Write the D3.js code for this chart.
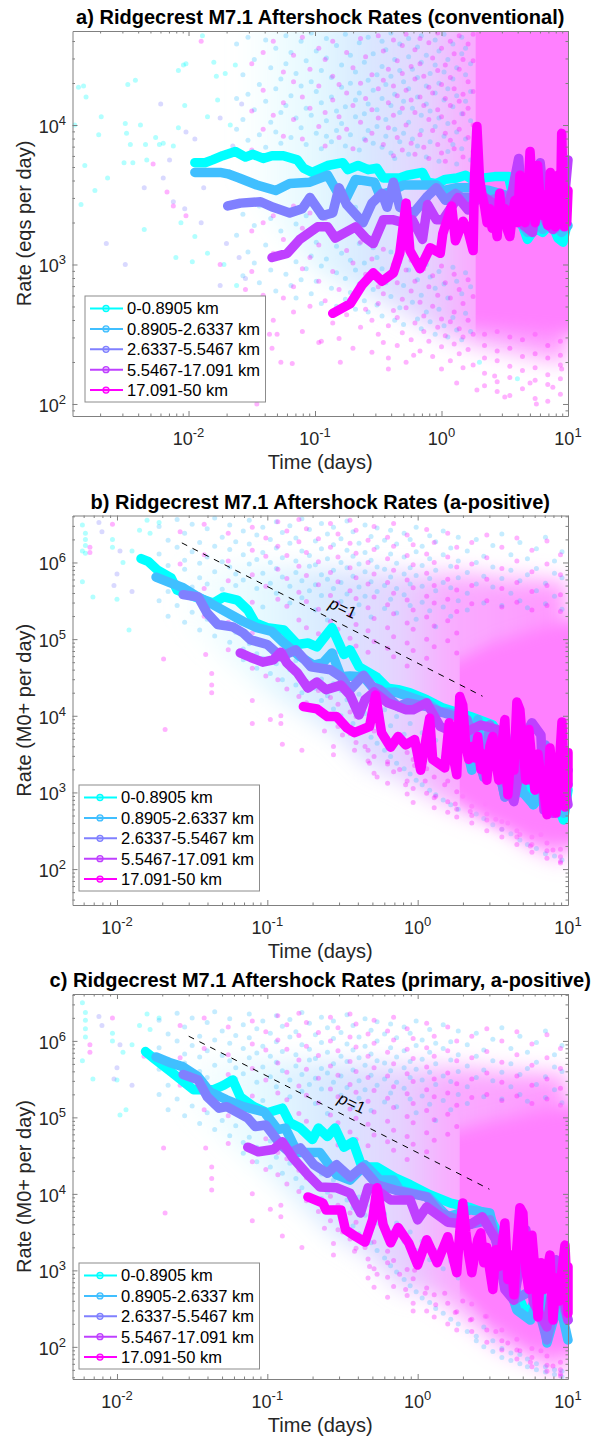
<!DOCTYPE html>
<html>
<head>
<meta charset="utf-8">
<script src="https://d3js.org/d3.v7.min.js"></script>
<style>
  body { margin: 0; background: #fff; }
  svg { display: block; font-family: "Liberation Sans", Arial, sans-serif; }
</style>
</head>
<body>
<div id="chart"></div>
<script>
// all series values below are log10(days) and log10(rate)
const binLabels = ["0-0.8905 km", "0.8905-2.6337 km", "2.6337-5.5467 km", "5.5467-17.091 km", "17.091-50 km"];
const binColors = ["#00ffff", "#40bfff", "#8080ff", "#bf40ff", "#ff00ff"];

// panel a
const aT0 = [-1.95,-1.87,-1.81,-1.73,-1.63,-1.55,-1.49,-1.41,-1.34,-1.25,-1.14,-1.09,-1.02,-.90,-.78,-.74,-.66,-.58,-.51,-.46,-.33,-.27,-.15,-.11,-.04,.03,.12,.19,.24,.42,.53,.58,.64,.68,.74,.80,.87,.92,.96,.99];
const aR0 = [3.73,3.73,3.75,3.78,3.81,3.77,3.79,3.76,3.78,3.78,3.75,3.69,3.66,3.71,3.73,3.68,3.71,3.68,3.69,3.62,3.62,3.64,3.66,3.59,3.58,3.61,3.62,3.64,3.61,3.63,3.63,3.43,3.28,3.18,3.26,3.23,3.30,3.19,3.16,3.28];
const aT1 = [-1.95,-1.87,-1.75,-1.69,-1.60,-1.46,-1.31,-1.20,-1.04,-.90,-.83,-.75,-.68,-.53,-.49,-.41,-.30,-.19,-.04,.01,.12,.23,.38,.50,.58,.68,.74,.80,.87,.95,1.0];
const aR1 = [3.66,3.66,3.66,3.65,3.62,3.57,3.53,3.58,3.59,3.64,3.53,3.48,3.61,3.59,3.50,3.52,3.57,3.57,3.57,3.53,3.55,3.55,3.53,3.50,3.35,3.23,3.30,3.25,3.32,3.23,3.28];
const aT2 = [-1.69,-1.59,-1.43,-1.33,-1.20,-1.10,-1.04,-.94,-.86,-.81,-.75,-.68,-.62,-.55,-.47,-.43,-.38,-.33,-.22,-.11,-.04,.03,.11,.16,.23,.38,.54,.66,.78,.90,.99];
const aR2 = [3.42,3.44,3.45,3.41,3.37,3.40,3.48,3.35,3.37,3.55,3.43,3.36,3.30,3.44,3.51,3.41,3.59,3.41,3.37,3.49,3.55,3.46,3.51,3.48,3.48,3.46,3.50,3.28,3.35,3.26,3.39];
const aT3 = [-1.34,-1.22,-1.12,-.98,-.90,-.84,-.68,-.60,-.54,-.46,-.38,-.30,-.23,-.15,-.11,-.04,.01,.13,.21,.31,.42,.50,.56,.61,.65,.72,.78,.83,.88,.92,.96,1.0];
const aR3 = [3.05,3.08,3.18,3.27,3.27,3.19,3.27,3.19,3.15,3.32,3.32,3.30,3.32,3.18,3.43,3.32,3.32,3.48,3.39,3.50,3.43,3.35,3.53,3.76,3.28,3.23,3.73,3.30,3.25,3.53,3.35,3.75];
const aT4 = [-.86,-.72,-.63,-.54,-.47,-.38,-.33,-.28,-.25,-.17,-.09,-.01,.01,.08,.11,.17,.21,.25,.26,.28,.30,.32,.34,.36,.38,.40,.42,.44,.46,.48,.50,.52,.54,.56,.58,.60,.62,.64,.66,.68,.70,.72,.74,.76,.78,.80,.82,.84,.86,.88,.90,.92,.94,.95,.96,.97,.98,.99,1.0];
const aR4 = [2.65,2.72,2.85,2.94,2.88,2.94,3.08,3.44,3.10,2.97,3.12,3.08,3.22,3.42,3.17,3.31,3.24,3.10,3.61,3.99,3.62,3.5,3.42,3.3,3.4,3.26,3.33,3.2,3.51,3.3,3.4,3.25,3.2,3.35,3.46,3.3,3.64,3.4,3.3,3.45,3.81,3.5,3.3,3.71,3.45,3.35,3.5,3.28,3.66,3.4,3.27,3.64,3.35,3.94,3.6,3.27,3.4,3.3,3.53];

// panel b
const bT0 = [-1.84,-1.79,-1.73,-1.64,-1.60,-1.51,-1.36,-1.29,-1.20,-1.13,-1.08,-1.00,-.89,-.80,-.73,-.67,-.57,-.49,-.45,-.39,-.27,-.20,-.13,-.05,.06,.17,.35,.50,.58,.63,.68,.73,.77,.85,.92,.97,1.0];
const bR0 = [6.05,6.01,5.90,5.80,5.64,5.57,5.47,5.55,5.51,5.38,5.21,5.15,5.12,4.93,4.95,4.90,5.15,4.80,4.86,4.64,4.50,4.36,4.34,4.30,4.21,4.10,3.99,3.88,3.62,3.29,3.0,3.23,2.84,3.03,2.90,2.64,3.03];
const bT1 = [-1.74,-1.64,-1.56,-1.46,-1.38,-1.26,-1.16,-1.07,-.97,-.89,-.78,-.69,-.63,-.57,-.51,-.45,-.36,-.27,-.15,-.06,.06,.15,.20,.28,.36,.40,.44,.48,.58,.65,.70,.77,.85,.92,.97,1.0];
const bR1 = [5.81,5.73,5.67,5.55,5.47,5.34,5.23,5.15,5.10,4.95,4.77,4.66,4.69,4.82,4.51,4.52,4.51,4.30,4.31,4.25,4.17,4.05,4.05,4.0,3.29,3.95,3.20,3.88,2.94,3.62,3.0,2.84,3.29,3.03,2.73,3.10];
const bT2 = [-1.56,-1.46,-1.40,-1.33,-1.23,-1.16,-1.11,-1.0,-.91,-.81,-.71,-.58,-.51,-.45,-.36,-.30,-.25,-.13,-.07,.06,.17,.33,.44,.48,.58,.65,.75,.85,.95,1.0];
const bR2 = [5.58,5.55,5.34,5.19,5.16,5.08,4.99,4.93,4.77,4.86,4.64,4.60,4.51,4.34,4.53,4.38,4.34,4.12,4.17,4.12,4.04,3.95,3.20,3.88,2.94,3.75,3.16,3.62,2.97,3.29];
const bT3 = [-1.18,-1.11,-1.03,-.96,-.91,-.87,-.80,-.73,-.67,-.61,-.51,-.45,-.39,-.35,-.29,-.20,-.13,-.08,-.03,.06,.15,.28,.42,.53,.58,.64,.72,.76,.82,.84,.90,.95,1.0];
const bR3 = [4.82,4.76,4.70,4.73,4.83,4.69,4.56,4.36,4.44,4.34,4.40,4.27,4.01,4.21,4.31,4.17,4.12,4.08,4.08,4.17,3.86,3.75,3.88,3.82,3.16,2.88,3.75,3.91,3.75,2.77,2.73,3.43,2.84];
const bT4 = [-.76,-.67,-.60,-.54,-.47,-.42,-.32,-.28,-.24,-.18,-.13,-.08,-.02,.02,.08,.10,.18,.21,.24,.26,.28,.30,.32,.34,.36,.38,.40,.42,.44,.46,.48,.50,.52,.54,.56,.58,.60,.62,.64,.66,.68,.70,.72,.74,.76,.78,.80,.82,.84,.86,.88,.90,.92,.94,.96,.98,1.0,1.0];
const bR4 = [4.12,4.09,3.99,3.99,3.84,3.78,3.86,4.27,3.78,3.59,3.73,3.62,3.69,3.29,3.97,3.43,3.32,3.91,3.43,3.23,4.25,4.14,3.6,3.43,3.6,3.45,3.73,3.3,3.5,3.16,3.6,3.73,3.4,3.16,3.62,3.95,2.97,3.5,3.29,4.18,4.08,3.6,3.16,3.82,3.4,3.03,3.5,3.2,3.0,2.71,3.58,3.2,2.73,3.29,3.92,2.81,3.52,3.1];

// panel c
const cT0 = [-1.81,-1.76,-1.63,-1.49,-1.36,-1.29,-1.23,-1.18,-1.09,-1.0,-.90,-.85,-.78,-.70,-.66,-.60,-.55,-.49,-.43,-.37,-.27,-.15,-.05,.08,.22,.35,.47,.53,.58,.65,.73,.78,.85,.92,.98];
const cR0 = [5.86,5.78,5.58,5.36,5.36,5.42,5.49,5.27,5.14,5.06,5.12,4.93,4.86,4.71,4.86,4.75,4.86,4.61,4.68,4.35,4.35,4.21,4.12,3.99,3.88,3.82,3.73,3.50,3.14,2.75,2.39,2.61,2.42,2.48,2.35];
const cT1 = [-1.74,-1.64,-1.56,-1.46,-1.38,-1.27,-1.16,-1.02,-.93,-.88,-.80,-.65,-.54,-.45,-.35,-.25,-.16,-.12,.07,.20,.35,.48,.55,.66,.75,.82,.86,.94,1.0];
const cR1 = [5.79,5.71,5.66,5.53,5.33,5.23,5.14,5.07,4.84,4.86,4.54,4.54,4.25,4.18,4.38,4.18,4.18,4.05,3.96,3.70,3.79,3.75,3.14,2.48,2.35,2.75,2.05,2.61,2.09];
const cT2 = [-1.56,-1.46,-1.40,-1.32,-1.27,-1.13,-1.08,-1.01,-.91,-.85,-.78,-.69,-.60,-.54,-.45,-.37,-.27,-.15,.06,.15,.35,.48,.64,.77,.86,.94,1.0];
const cR2 = [5.56,5.49,5.27,5.12,5.14,4.99,4.88,4.90,4.64,4.54,4.60,4.38,4.27,4.38,4.22,4.35,4.12,4.05,3.96,3.75,3.60,3.66,2.61,2.75,2.09,2.75,2.35];
const cT3 = [-1.13,-1.06,-.96,-.90,-.83,-.74,-.65,-.54,-.45,-.38,-.33,-.27,-.18,-.05,0,.06,.20,.35,.43,.52,.58,.64,.72,.77,.86,.92,1.0];
const cR3 = [4.61,4.55,4.58,4.68,4.47,4.27,4.09,4.08,4.01,3.75,4.08,4.05,3.92,3.92,3.66,3.83,3.63,3.60,3.70,3.40,2.75,2.61,3.53,2.58,2.26,3.14,2.35];
const cT4 = [-.73,-.63,-.61,-.51,-.48,-.41,-.35,-.30,-.27,-.23,-.18,-.13,-.06,0,.06,.13,.20,.26,.28,.30,.32,.34,.36,.38,.40,.42,.44,.46,.48,.50,.52,.54,.56,.58,.60,.62,.64,.66,.68,.70,.72,.74,.76,.78,.80,.82,.84,.86,.88,.90,.92,.94,.96,.98,1.0,1.0];
const cR4 = [3.96,3.88,3.79,3.79,3.53,3.44,3.37,3.66,4.08,3.60,3.36,3.56,3.36,3.07,3.40,3.10,3.44,2.97,3.5,3.88,3.5,3.2,2.97,3.2,3.4,3.49,3.1,3.3,3.0,2.75,3.27,3.05,3.3,3.62,2.88,3.2,2.68,3.3,3.82,3.75,3.0,2.75,3.46,3.0,2.39,3.1,2.75,3.0,3.2,2.35,2.9,2.6,3.0,3.33,2.44,3.05];

// single events, [log10 days, log10 rate]
const aDotsCyan = [[-2.87,4.27],[-2.83,4.28],[-2.81,4.20],[-2.48,4.29],[-2.42,4.32],[-2.69,4.06],[-2.90,4.00],[-2.71,3.93],[-2.49,3.94],[-2.50,4.01],[-2.38,4.00],[-2.46,3.86],[-2.34,3.86],[-2.26,3.91],[-2.23,3.86],[-2.82,3.71],[-2.64,3.62],[-2.74,3.53],[-2.85,3.43],[-2.51,3.73],[-2.44,3.73],[-2.33,3.75],[-2.20,3.87],[-2.12,3.85],[-2.08,3.98],[-2.03,4.14],[-2.08,4.39],[-2.04,4.43],[-2.02,4.44],[-1.89,4.64],[-1.80,4.45],[-1.78,4.35],[-1.71,4.37],[-1.63,4.43],[-1.77,4.18],[-1.85,4.06],[-1.67,4.0],[-2.35,3.25],[-2.06,3.30],[-1.95,3.2],[-2.10,3.05],[-1.97,3.02],[-1.85,3.08],[-1.72,3.0],[-1.62,2.85],[.3,2.3],[.6,2.18]];
const aDotsViolet = [[-2.22,4.15],[-2.02,3.95],[-1.95,3.9],[-2.15,3.75],[-2.2,3.62],[-2.35,3.55],[-2.12,3.45],[-2.03,3.4],[-1.88,3.55],[-1.9,3.3],[-2.5,3.0],[-2.65,3.15],[-1.7,3.15],[-1.6,3.05],[-1.55,2.9],[-1.75,2.85],[-1.65,2.72],[-1.58,4.15],[-1.75,4.05],[-1.65,3.85]];
const aDotsPink = [[-2.28,3.72],[-2.17,3.52],[-2.12,3.42],[-2.02,3.35],[-1.55,2.82],[-1.49,2.75],[-1.45,2.62],[-1.43,2.5],[-1.46,2.0],[-1.36,2.5],[-1.3,2.5],[-1.27,2.3],[-1.18,2.29],[-1.34,2.4],[-1.75,3.0],[-1.7,2.7],[-1.9,4.6],[-1.72,3.65],[-.95,2.45],[-.8,2.3],[-.42,2.25],[-.22,2.35],[0,2.25],[.12,2.15],[.28,2.1],[.42,2.2],[.5,2.05],[.7,2.15],[.75,2.0],[.88,2.12],[.95,2.25]];
// denser stretches as columns: one time, then the rates seen there
const aColsCyan = [[-1.62,4.58,4.19,3.97,3.21],[-1.57,4.36,4.04,3.36,2.92],[-1.53,4.63,4.22,3.89,3.09],[-1.48,4.47,4.11,3.28,3.01],[-1.44,4.29,3.93,3.42,2.87],[-1.39,4.61,4.17,3.84,3.14],[-1.35,4.41,4.02,3.33,2.96],[-1.31,4.55,4.26,3.95,3.07,2.81],[-1.27,4.33,4.09,3.87,3.24],[-1.23,4.64,4.44,4.14,3.38,2.93],[-1.19,4.52,4.21,3.91,3.11,2.85],[-1.15,4.37,4.05,3.29,3.02,2.76],[-1.11,4.6,4.28,3.98,3.19,2.89],[-1.07,4.46,4.12,3.86,3.35,2.97],[-1.03,4.66,4.31,4.07,3.43,3.06,2.79],[-.99,4.53,4.24,3.94,3.16,2.88],[-.95,4.39,4.16,3.83,3.27,2.99,2.72],[-.91,4.62,4.48,4.03,3.92,3.04],[-.87,4.34,4.2,3.88,3.37,2.83],[-.83,4.57,4.1,3.96,3.13,2.94,2.7],[-.79,4.43,4.27,4.01,3.47,3.08],[-.76,4.65,4.13,3.85,3.22,2.9,2.75],[-.72,4.5,4.3,3.93,3.03,2.8],[-.68,4.38,4.18,4.06,3.41,2.96,2.68],[-.65,4.59,4.23,3.82,3.15,2.86],[-.61,4.45,4.08,3.9,3.01,2.74],[-.58,4.63,4.32,4.15,3.96,2.92,2.66],[-.54,4.51,4.25,3.87,3.12,2.82],[-.51,4.36,4.11,3.99,3.05,2.71],[-.47,4.6,4.42,4.19,3.84,2.97,2.63],[-.44,4.54,4.29,4.04,3.92,2.87],[-.4,4.66,4.35,4.14,3.8,3.09,2.77],[-.37,4.47,4.22,3.97,3.76,2.93,2.6],[-.33,4.58,4.39,4.09,3.88,3.02,2.69],[-.3,4.31,4.17,3.94,2.85,2.57],[-.26,4.62,4.49,4.26,4.02,3.79,2.96],[-.23,4.4,4.12,3.9,3.06,2.73],[-.19,4.56,4.34,4.2,3.85,2.89,2.61],[-.16,4.64,4.45,4.07,3.96,2.78,2.54],[-.12,4.5,4.28,4.15,3.77,3.0,2.66],[-.09,4.37,4.1,3.88,2.91,2.59],[-.05,4.61,4.43,4.23,3.99,2.83,2.5],[-.02,4.53,4.3,4.05,3.74,2.95,2.68],[.02,4.65,4.38,4.18,3.92,2.86,2.56],[.05,4.47,4.26,4.01,3.81,2.76,2.48],[.09,4.58,4.33,4.13,3.86,2.98,2.62],[.12,4.41,4.21,3.95,3.72,2.88,2.53],[.16,4.63,4.51,4.08,3.83,2.79,2.46],[.19,4.55,4.36,4.17,3.9,2.94,2.65],[.23,4.44,4.24,4.03,3.75,2.84,2.52]];
const aColsPink = [[-1.5,4.44,4.1,3.82,3.24,2.95,2.68],[-1.41,4.52,4.25,3.97,3.3,2.78],[-1.33,4.6,4.07,3.35,3.08,2.6],[-1.25,4.38,4.16,3.92,3.18,2.76],[-1.17,4.5,4.31,4.04,3.42,2.84,2.66],[-1.1,4.63,4.2,3.9,3.26,2.97,2.52],[-1.04,4.4,4.12,3.37,3.05,2.7],[-.97,4.55,4.28,3.99,3.14,2.88,2.44],[-.92,4.47,4.09,3.85,3.33,2.74],[-.86,4.6,4.35,4.18,2.95,2.58],[-.81,4.29,4.06,3.91,3.2,2.82,2.47],[-.75,4.52,4.23,3.97,3.1,2.64],[-.7,4.41,4.14,3.83,3.01,2.77,2.4],[-.64,4.62,4.3,4.02,3.16,2.86,2.55],[-.6,4.49,4.19,3.89,2.93,2.68],[-.55,4.36,4.11,3.94,3.04,2.6,2.37],[-.5,4.64,4.26,4.05,2.84,2.72,2.5],[-.46,4.53,4.32,3.86,3.11,2.79,2.44],[-.42,4.4,4.16,3.98,2.9,2.56,2.33],[-.38,4.61,4.28,4.07,3.78,3.0,2.67],[-.35,4.46,4.21,3.91,2.87,2.62,2.42],[-.31,4.57,4.37,4.12,3.82,2.75,2.51],[-.28,4.65,4.25,4.0,2.96,2.69,2.3],[-.24,4.42,4.18,3.87,3.03,2.81,2.46],[-.21,4.54,4.33,4.09,3.79,2.88,2.58],[-.17,4.62,4.44,4.2,3.93,2.73,2.38],[-.14,4.35,4.14,3.84,2.97,2.63,2.52],[-.1,4.59,4.27,4.04,3.76,2.84,2.45],[-.07,4.48,4.23,3.96,2.92,2.7,2.34],[-.03,4.66,4.39,4.11,3.86,2.78,2.55],[0,4.55,4.29,4.06,3.8,2.99,2.61,2.41],[.03,4.43,4.19,3.94,3.74,2.87,2.49],[.07,4.6,4.34,4.14,3.89,2.76,2.59,2.31],[.1,4.51,4.26,4.02,3.83,2.93,2.66,2.43],[.14,4.64,4.4,4.17,3.97,2.82,2.54,2.36],[.17,4.47,4.22,4.08,3.77,2.72,2.48,2.26],[.21,4.58,4.31,4.12,3.91,2.89,2.6,2.39],[.25,4.65,4.46,4.24,4.0,3.81,2.77,2.5,2.28],[.34,2.5,2.42,2.33,2.22,2.13],[.44,2.52,2.38,2.31,2.16,2.09],[.54,2.48,2.4,2.27,2.19,2.06],[.64,2.46,2.34,2.24,2.11],[.74,2.5,2.36,2.26,2.17,2.04],[.84,2.42,2.33,2.21,2.14,2.02],[.94,2.45,2.35,2.28,2.18,2.07]];

const bDotsCyan = [[-2.23,6.49],[-2.21,6.38],[-2.21,6.3],[-2.21,6.22],[-2.21,6.12],[-2.23,6.15],[-2.23,5.75],[-2.16,5.55],[-2.0,5.52],[-1.92,5.12],[-1.96,6.0],[-2.03,6.2],[-2.03,6.3],[-1.9,6.15],[-1.85,6.42],[-1.8,6.55],[-1.72,6.52],[-1.78,6.38]];
const bDotsViolet = [[-2.12,6.52],[-2.1,6.4],[-1.98,6.15],[-2.0,5.85],[-2.02,5.7],[-1.9,5.62],[-1.72,5.9]];
const bDotsPink = [[-2.18,6.2],[-2.18,6.13],[-2.03,6.5],[-1.82,6.05],[-1.69,4.74],[-1.68,3.82],[-1.41,4.8],[-1.37,4.55],[-1.37,4.4],[-1.37,4.3],[-1.1,3.9],[-1.1,4.2],[-.98,3.95],[-.91,4.0],[-.91,3.9],[-.9,3.63],[-.77,3.55],[-.56,3.49],[-.56,3.6],[-.62,3.8],[-.5,3.75],[-.42,3.55],[-.35,3.6],[-.32,3.38],[-.27,3.2],[-.2,3.4],[-.12,3.3],[-.08,3.1],[-.02,3.35],[.05,3.15],[.12,2.95],[.18,3.1],[.25,2.85],[.3,2.95],[.35,2.75],[.45,2.85],[.52,2.65],[.6,2.6],[.68,2.45],[.75,2.3],[.82,2.45],[.9,2.25],[.95,2.1]];
const bColsCyan = [[-1.72,6.47,6.11,5.83,5.5],[-1.66,6.29,5.96,5.62,5.3],[-1.6,6.56,6.2,5.74,5.44],[-1.55,6.38,6.03,5.91,5.22],[-1.5,6.5,6.14,5.68,5.35],[-1.45,6.26,5.99,5.8,5.12],[-1.4,6.44,6.07,5.72,5.26],[-1.35,6.58,6.21,5.88,5.04],[-1.3,6.33,6.01,5.65,5.16],[-1.25,6.49,6.17,5.94,4.96],[-1.21,6.27,5.85,5.7,5.09],[-1.16,6.41,6.1,5.77,4.87,4.73],[-1.12,6.55,6.24,5.98,5.31,4.94],[-1.07,6.36,6.04,5.66,4.81,4.62],[-1.03,6.46,6.13,5.86,5.42,4.75],[-.98,6.3,6.0,5.73,4.89,4.55],[-.94,6.53,6.19,5.92,5.6,4.68],[-.9,6.39,6.06,5.81,4.79,4.47],[-.85,6.48,6.25,5.69,5.47,4.6],[-.81,6.32,6.02,5.87,4.72,4.4],[-.77,6.57,6.15,5.76,5.54,4.52,4.3],[-.72,6.43,6.09,5.95,5.63,4.64],[-.68,6.28,5.97,5.71,5.38,4.36],[-.64,6.51,6.18,5.84,5.57,4.48,4.2],[-.6,6.37,6.05,5.78,5.25,4.26],[-.56,6.46,6.23,5.9,5.66,4.42,4.09],[-.51,6.31,6.0,5.74,5.49,4.33,4.0],[-.47,6.54,6.16,5.93,5.59,4.21],[-.43,6.4,6.08,5.82,5.33,4.12,3.9],[-.39,6.25,5.98,5.68,5.45,4.28,3.82],[-.35,6.49,6.13,5.88,5.56,4.03],[-.31,6.34,6.03,5.75,5.29,4.17,3.72],[-.27,6.45,6.2,5.94,5.62,3.96,3.64],[-.22,6.29,5.91,5.7,5.4,4.08,3.55],[-.18,6.42,6.11,5.81,5.52,3.87,3.47],[-.14,6.24,5.99,5.66,5.34,3.99,3.38],[-.09,6.38,6.07,5.85,5.58,3.76,3.31],[-.05,6.3,5.93,5.72,5.44,3.9,3.24],[-.01,6.46,6.14,5.83,5.26,3.66,3.16],[.03,6.21,5.96,5.69,5.48,3.78,3.1],[.08,6.35,6.05,5.79,5.37,3.56,3.03],[.12,6.27,5.9,5.63,5.16,3.68,2.97],[.17,6.41,6.1,5.74,5.42,3.46,2.9],[.22,6.19,5.95,5.67,5.3,3.58,2.84],[.27,6.33,6.02,5.8,5.5,3.36,2.78],[.33,6.15,5.87,5.6,5.38],[.39,6.3,6.0,5.72,2.72],[.44,6.08,5.82,5.47,2.66],[.5,6.22,5.94,5.68,2.58],[.56,6.37,5.79,5.44,2.52],[.62,6.1,5.9,5.6,2.46],[.68,6.26,5.76,5.5,2.38],[.73,6.05,5.84,5.41,2.32],[.79,6.18,5.92,5.63,2.27],[.85,6.33,5.73,5.46,2.2],[.91,6.02,5.86,5.56,2.17],[.96,6.14,5.8,5.39,2.12]];
const bColsPink = [[-1.58,6.4,5.98,5.62],[-1.42,6.5,6.1,5.66,5.3],[-1.26,6.38,6.02,5.76,5.22,4.86],[-1.1,6.46,6.16,5.84,5.48,5.08,4.62],[-1.01,6.32,6.08,5.69,4.92,4.52],[-.93,6.53,6.21,5.91,5.52,4.74,4.47],[-.87,6.41,6.09,5.79,5.43,4.66,4.35],[-.79,6.56,6.27,5.95,5.61,5.25,4.53,4.25],[-.74,6.44,6.13,5.83,5.49,5.15,4.45,4.17],[-.66,6.31,6.01,5.71,5.39,5.07,4.33,4.07],[-.58,6.51,6.2,5.87,5.57,5.23,4.24,3.97],[-.53,6.37,6.07,5.75,5.47,5.13,4.84,4.15,3.86],[-.45,6.55,6.25,5.93,5.63,5.31,5.01,4.05,3.77],[-.41,6.42,6.12,5.8,5.53,5.19,4.91,3.99,3.65],[-.33,6.29,6.0,5.72,5.41,5.11,4.83,3.87,3.55,3.41],[-.29,6.47,6.17,5.85,5.55,5.27,4.97,3.8,3.47,3.25],[-.2,6.33,6.05,5.74,5.45,5.15,4.88,3.71,3.37,3.12],[-.16,6.51,6.21,5.9,5.6,5.33,5.03,4.77,3.61,3.27],[-.07,6.36,6.09,5.77,5.51,5.21,4.95,4.65,3.52,3.15,2.98],[-.03,6.23,5.97,5.67,5.38,5.13,4.85,3.43,3.05,2.87],[.06,6.43,6.11,5.86,5.56,5.29,5.0,4.75,3.31,2.99],[.11,6.26,6.0,5.7,5.47,5.17,4.9,3.2,2.93,2.8],[.2,6.38,6.07,5.78,5.52,5.24,4.98,3.15,2.88,2.74],[.26,6.2,5.94,5.64,5.36,5.08,4.82,3.01,2.78,2.68],[.36,6.26,5.98,5.7,5.46,2.82,2.7,2.6],[.46,6.36,6.06,5.78,5.5,2.72,2.64,2.5],[.56,6.2,5.92,5.66,5.42,2.62,2.52,2.42],[.66,6.32,6.02,5.74,5.48,2.5,2.42,2.32],[.76,6.16,5.88,5.62,5.38,2.42,2.32,2.22],[.86,6.28,5.98,5.7,5.44,2.34,2.24,2.14],[.95,6.1,5.84,5.58,5.36,2.26,2.16,2.08]];

const cDotsCyan = [[-2.23,6.5],[-2.21,6.37],[-2.21,6.27],[-2.21,6.16],[-2.21,6.05],[-2.23,5.74],[-2.16,5.5],[-2.0,5.49],[-1.98,5.03],[-1.94,5.1],[-1.96,5.85],[-2.03,6.0],[-2.03,6.1],[-1.9,5.95],[-1.85,6.2],[-1.8,6.35],[-1.72,6.3],[-1.78,6.15]];
const cDotsViolet = [[-2.12,6.32],[-2.1,6.2],[-1.98,5.95],[-2.0,5.65],[-2.02,5.5],[-1.9,5.42],[-1.72,5.7]];
const cDotsPink = [[-2.18,5.95],[-2.18,5.85],[-2.03,6.3],[-1.82,5.8],[-1.69,4.6],[-1.68,3.75],[-1.41,4.6],[-1.37,4.35],[-1.37,4.2],[-1.37,4.05],[-1.1,3.65],[-1.1,4.0],[-.98,3.8],[-.91,3.85],[-.91,3.7],[-.9,3.45],[-.77,3.3],[-.56,3.2],[-.56,3.35],[-.62,3.55],[-.5,3.5],[-.42,3.25],[-.35,3.3],[-.32,3.05],[-.27,2.95],[-.2,3.1],[-.12,2.95],[-.08,2.75],[-.02,3.0],[.05,2.7],[.12,2.55],[.18,2.7],[.25,2.45],[.3,2.6],[.35,2.35],[.45,2.4],[.52,2.2],[.6,2.05],[.68,1.95],[.75,1.8],[.82,1.95],[.9,1.75],[.95,1.65]];
const cColsCyan = [[-1.72,6.27,5.91,5.63,5.3],[-1.66,6.09,5.76,5.42,5.1],[-1.6,6.36,6.0,5.54,5.24],[-1.55,6.18,5.83,5.71,5.02],[-1.5,6.3,5.94,5.48,5.15],[-1.45,6.06,5.79,5.6,4.92],[-1.4,6.24,5.87,5.52,5.06],[-1.35,6.38,6.01,5.68,4.84],[-1.3,6.13,5.81,5.45,4.96],[-1.25,6.29,5.97,5.74,4.76],[-1.21,6.07,5.65,5.5,4.89],[-1.16,6.21,5.9,5.57,4.67,4.53],[-1.12,6.35,6.04,5.78,5.11,4.74],[-1.07,6.16,5.84,5.46,4.61,4.42],[-1.03,6.26,5.93,5.66,5.22,4.55],[-.98,6.1,5.8,5.53,4.69,4.35],[-.94,6.33,5.99,5.72,5.4,4.48],[-.9,6.19,5.86,5.61,4.59,4.27],[-.85,6.28,6.05,5.49,5.27,4.4],[-.81,6.12,5.82,5.67,4.52,4.2],[-.77,6.37,5.95,5.56,5.34,4.32,4.08],[-.72,6.23,5.89,5.75,5.43,4.42],[-.68,6.08,5.77,5.51,5.18,4.14],[-.64,6.31,5.98,5.64,5.37,4.26,3.94],[-.6,6.17,5.85,5.58,5.05,4.02],[-.56,6.26,6.03,5.7,5.46,4.18,3.82],[-.51,6.11,5.8,5.54,5.29,4.06,3.7],[-.47,6.34,5.96,5.73,5.39,3.92],[-.43,6.2,5.88,5.62,5.13,3.82,3.58],[-.39,6.05,5.78,5.48,5.25,3.96,3.48],[-.35,6.29,5.93,5.68,5.36,3.72],[-.31,6.14,5.83,5.55,5.09,3.84,3.36],[-.27,6.25,6.0,5.74,5.42,3.62,3.26],[-.22,6.09,5.71,5.5,5.2,3.74,3.16],[-.18,6.22,5.91,5.61,5.32,3.5,3.06],[-.14,6.04,5.79,5.46,5.14,3.62,2.98],[-.09,6.18,5.87,5.65,5.38,3.38,2.88],[-.05,6.1,5.73,5.52,5.24,3.5,2.8],[-.01,6.26,5.94,5.63,5.06,3.26,2.72],[.03,6.01,5.76,5.49,5.28,3.38,2.64],[.08,6.15,5.85,5.59,5.17,3.14,2.58],[.12,5.97,5.7,5.43,4.96,3.26,2.5],[.17,6.21,5.9,5.54,5.22,3.02,2.44],[.22,5.99,5.75,5.47,5.1,3.12,2.36],[.27,6.13,5.82,5.6,5.3,2.9,2.3],[.33,5.95,5.67,5.4,5.18,2.2],[.39,6.1,5.8,5.52,2.14,2.08],[.44,5.88,5.62,5.27,2.26,2.0],[.5,6.02,5.74,5.48,2.08,1.94],[.56,6.17,5.59,5.24,1.98,1.86],[.62,5.9,5.7,5.4,1.92,1.82],[.68,6.06,5.56,5.3,1.9,1.78],[.73,5.85,5.64,5.21,1.84,1.74],[.79,5.98,5.72,5.43,1.78,1.7],[.85,6.13,5.53,5.26,1.74,1.67],[.91,5.82,5.66,5.36,1.7,1.64],[.96,5.94,5.6,5.19,1.68,1.61]];
const cColsPink = [[-1.58,6.2,5.78,5.42],[-1.42,6.3,5.9,5.46,5.1],[-1.26,6.18,5.82,5.56,5.02,4.66],[-1.1,6.26,5.96,5.64,5.28,4.88,4.42],[-1.01,6.12,5.88,5.49,4.72,4.32],[-.93,6.33,6.01,5.71,5.32,4.54,4.25],[-.87,6.21,5.89,5.59,5.23,4.46,4.13],[-.79,6.36,6.07,5.75,5.41,5.05,4.31,4.03],[-.74,6.24,5.93,5.63,5.29,4.95,4.21,3.91],[-.66,6.11,5.81,5.51,5.19,4.87,4.09,3.77],[-.58,6.31,6.0,5.67,5.37,5.03,3.97,3.65],[-.53,6.17,5.87,5.55,5.27,4.93,4.64,3.85,3.53],[-.45,6.35,6.05,5.73,5.43,5.11,4.81,3.75,3.41],[-.41,6.22,5.92,5.6,5.33,4.99,4.71,3.63,3.29],[-.33,6.09,5.8,5.52,5.21,4.91,4.63,3.5,3.15,2.9],[-.29,6.27,5.97,5.65,5.35,5.07,4.77,3.37,3.02,2.78],[-.2,6.13,5.85,5.54,5.25,4.95,4.68,3.25,2.91,2.65],[-.16,6.31,6.01,5.7,5.4,5.13,4.83,4.57,3.13,2.79],[-.07,6.16,5.89,5.57,5.31,5.01,4.75,4.45,3.01,2.67],[-.03,6.03,5.77,5.47,5.18,4.93,4.65,2.89,2.57,2.47],[.06,6.23,5.91,5.66,5.36,5.09,4.8,4.55,2.77,2.47],[.11,6.06,5.8,5.5,5.27,4.97,4.7,2.68,2.39],[.2,6.18,5.87,5.58,5.32,5.04,4.78,2.57,2.3],[.26,6.0,5.74,5.44,5.16,4.88,2.46,2.22],[.36,6.06,5.78,5.5,5.26,2.56,2.36,2.2],[.46,6.16,5.86,5.58,5.3,2.4,2.22,2.06],[.56,6,5.72,5.46,5.22,2.22,2.08,1.96],[.66,6.12,5.82,5.54,5.28,2.1,1.96,1.84],[.76,5.96,5.68,5.42,5.18,1.98,1.86,1.74],[.86,6.08,5.78,5.5,5.24,1.88,1.76,1.68],[.95,5.9,5.64,5.38,5.16,1.8,1.7,1.62]];

// where the events pile up too thick to tell apart: outline of the haze and the solid core
const aHazeT = [-1.6,-1,-.5,0,.3,1];
const aHazeLo = [3.6,2.95,2.75,2.5,2.42,2.3];
const aHazeHi = [4.8,4.8,4.8,4.8,4.8,4.8];
const aCoreT = [.27,1];
const aCoreLo = [2.55,2.5];
const aCoreHi = [4.9,4.9];

const bHazeT = [-1.7,-1.44,-1,-.56,-.33,-.11,0,.33,.55,.77,1];
const bHazeLo = [5.4,5.0,4.3,3.78,3.33,3.16,3.03,2.73,2.6,2.29,2.12];
const bHazeHi = [5.95,5.95,5.95,5.92,5.9,5.88,5.86,5.85,5.8,5.78,5.75];
const bCoreT = [.28,.5,.75,1];
const bCoreLo = [2.9,2.62,2.4,2.3];
const bCoreHi = [4.73,4.95,5.1,5.25];

const cHazeT = [-1.7,-1.44,-1,-.56,-.33,-.11,.1,.33,.55,.77,1];
const cHazeLo = [5.4,4.97,4.25,3.46,3.18,2.75,2.68,2.35,2.0,1.83,1.6];
const cHazeHi = [5.75,5.75,5.75,5.72,5.7,5.68,5.66,5.65,5.6,5.58,5.55];
const cCoreT = [.28,.5,.75,1];
const cCoreLo = [2.75,2.3,2.0,1.9];
const cCoreHi = [4.84,4.95,5.05,5.16];

const pLineBT = [.027, 2.7];
const pLineBR = [1.8e6, 1.8e4];
const pLineCT = [.03, 3];
const pLineCR = [1.15e6, 1.15e4];

const panels = [
  {
    id: "a", title: "a) Ridgecrest M7.1 Aftershock Rates (conventional)", yTitle: "Rate (eqs per day)",
    top: 31, bottom: 416, xDomain: [0.00121, 10], yDomain: [82, 47200],
    times: [aT0, aT1, aT2, aT3, aT4], rates: [aR0, aR1, aR2, aR3, aR4],
    dots: [aDotsCyan, aDotsViolet, aDotsPink], cols: [aColsCyan, aColsPink],
    haze: [aHazeT, aHazeLo, aHazeHi], core: [aCoreT, aCoreLo, aCoreHi],
    legendLeft: 85, legendTop: 296
  },
  {
    id: "b", title: "b) Ridgecrest M7.1 Aftershock Rates (a-positive)", yTitle: "Rate (M0+ per day)",
    top: 515.5, bottom: 905, xDomain: [0.00506, 10], yDomain: [34, 4.1e6],
    times: [bT0, bT1, bT2, bT3, bT4], rates: [bR0, bR1, bR2, bR3, bR4],
    dots: [bDotsCyan, bDotsViolet, bDotsPink], cols: [bColsCyan, bColsPink],
    haze: [bHazeT, bHazeLo, bHazeHi], core: [bCoreT, bCoreLo, bCoreHi],
    pT: pLineBT, pR: pLineBR, pLabel: [343, 608],
    legendLeft: 79, legendTop: 785
  },
  {
    id: "c", title: "c) Ridgecrest M7.1 Aftershock Rates (primary, a-positive)", yTitle: "Rate (M0+ per day)",
    top: 994, bottom: 1379, xDomain: [0.00506, 10], yDomain: [38, 4.1e6],
    times: [cT0, cT1, cT2, cT3, cT4], rates: [cR0, cR1, cR2, cR3, cR4],
    dots: [cDotsCyan, cDotsViolet, cDotsPink], cols: [cColsCyan, cColsPink],
    haze: [cHazeT, cHazeLo, cHazeHi], core: [cCoreT, cCoreLo, cCoreHi],
    pT: pLineCT, pR: pLineCR, pLabel: [352, 1103],
    legendLeft: 79, legendTop: 1263
  }
];

const width = 597, height = 1440, left = 72.5, right = 568;
const axisColor = "#808080", textColor = "#262626";

const svg = d3.select("#chart").append("svg")
  .attr("width", width)
  .attr("height", height);
const defs = svg.append("defs");
defs.append("filter").attr("id", "soft")
  .attr("x", "-10%").attr("y", "-15%").attr("width", "120%").attr("height", "130%")
  .append("feGaussianBlur").attr("stdDeviation", 11);
// core keeps its sharp left edge, only the top and bottom fade
defs.append("filter").attr("id", "softY")
  .attr("x", "0%").attr("y", "-20%").attr("width", "100%").attr("height", "140%")
  .append("feGaussianBlur").attr("stdDeviation", "0 8");

// every 1..9 multiple inside the domain, for the log minor ticks
function logTicks(domain) {
  const ticks = [];
  for (let e = Math.floor(Math.log10(domain[0])); e <= Math.ceil(Math.log10(domain[1])); e++) {
    for (let m = 1; m < 10; m++) {
      const v = m * 10 ** e;
      if (v >= domain[0] && v <= domain[1]) ticks.push(v);
    }
  }
  return ticks;
}
const isMajor = v => Math.abs(Math.log10(v) - Math.round(Math.log10(v))) < 1e-6;

function powerLabel(g, value, x, y, anchor) {
  const t = g.append("text")
    .attr("x", x).attr("y", y)
    .attr("text-anchor", anchor)
    .attr("fill", textColor)
    .style("font-size", "18px");
  t.append("tspan").text("10");
  t.append("tspan")
    .attr("dy", -8)
    .style("font-size", "13px")
    .text(Math.round(Math.log10(value)));
}

function drawPanel(p) {
  const x = d3.scaleLog().domain(p.xDomain).range([left, right]);
  const y = d3.scaleLog().domain(p.yDomain).range([p.bottom, p.top]);
  const g = svg.append("g").attr("class", `panel-${p.id}`);
  const px = v => x(10 ** v), py = v => y(10 ** v);

  defs.append("clipPath").attr("id", `clip-${p.id}`)
    .append("rect")
    .attr("x", left).attr("y", p.top)
    .attr("width", right - left + 1).attr("height", p.bottom - p.top);

  // haze colour runs from pale cyan through lilac to pink with time
  const grad = defs.append("linearGradient")
    .attr("id", `haze-${p.id}`)
    .attr("gradientUnits", "userSpaceOnUse")
    .attr("x1", px(-1.6)).attr("x2", px(1)).attr("y1", 0).attr("y2", 0);
  [[0, "#c0f6ff", 0], [0.19, "#c0f2ff", 0.35], [0.38, "#c8e0ff", 0.7], [0.58, "#e2c8ff", 0.85], [0.69, "#f8a8ff", 0.95], [1, "#ff90ff", 0.95]]
    .forEach(s => grad.append("stop")
      .attr("offset", s[0]).attr("stop-color", s[1]).attr("stop-opacity", s[2]));

  const cloud = g.append("g").attr("clip-path", `url(#clip-${p.id})`);
  const area = d3.area()
    .x(d => px(d[0]))
    .y0(d => py(d[1]))
    .y1(d => py(d[2]));

  cloud.append("g").attr("filter", "url(#soft)")
    .append("path")
    .attr("d", area(d3.zip(...p.haze)))
    .attr("fill", `url(#haze-${p.id})`);

  const addDots = (points, color) => {
    cloud.append("g").selectAll("circle")
      .data(points)
      .join("circle")
      .attr("cx", d => px(d[0]))
      .attr("cy", d => py(d[1]))
      .attr("r", 2.5)
      .attr("fill", color)
      .attr("fill-opacity", 0.3);
  };
  const unroll = cols => cols.flatMap(c => c.slice(1).map(r => [c[0], r]));

  addDots(p.dots[0], binColors[0]);
  addDots(unroll(p.cols[0]), binColors[1]);
  addDots(p.dots[1], binColors[2]);
  addDots(p.dots[2], binColors[4]);
  addDots(unroll(p.cols[1]), binColors[4]);

  cloud.append("g").attr("filter", "url(#softY)")
    .append("path")
    .attr("d", area(d3.zip(...p.core)))
    .attr("fill", "#ff80ff");

  const line = d3.line().x(d => px(d[0])).y(d => py(d[1]));
  p.times.forEach((t, i) => {
    g.append("path")
      .attr("d", line(d3.zip(t, p.rates[i])))
      .attr("fill", "none")
      .attr("stroke", binColors[i])
      .attr("stroke-width", 9.5)
      .attr("stroke-linejoin", "round")
      .attr("stroke-linecap", "round");
  });

  if (p.pT) {
    g.append("line")
      .attr("x1", x(p.pT[0])).attr("y1", y(p.pR[0]))
      .attr("x2", x(p.pT[1])).attr("y2", y(p.pR[1]))
      .attr("stroke", "black")
      .attr("stroke-width", 1)
      .attr("stroke-dasharray", "6,6");
    const label = g.append("text")
      .attr("transform", `translate(${p.pLabel[0]},${p.pLabel[1]})rotate(25)`)
      .attr("text-anchor", "middle")
      .attr("dy", "0.35em")
      .style("font-size", "16.5px");
    label.append("tspan").style("font-style", "italic").text("p");
    label.append("tspan").text("=1");
  }

  // box with inward ticks on all four sides
  const xTicks = logTicks(p.xDomain), yTicks = logTicks(p.yDomain);
  const sides = [
    [d3.axisBottom(x), `translate(0,${p.bottom})`, xTicks, -1, "y2"],
    [d3.axisTop(x), `translate(0,${p.top})`, xTicks, 1, "y2"],
    [d3.axisLeft(y), `translate(${left},0)`, yTicks, 1, "x2"],
    [d3.axisRight(y), `translate(${right},0)`, yTicks, -1, "x2"]
  ];
  sides.forEach(s => {
    const ax = g.append("g")
      .attr("transform", s[1])
      .call(s[0].tickValues(s[2]).tickFormat("").tickSizeOuter(0));
    ax.selectAll(".domain").attr("stroke", axisColor);
    ax.selectAll(".tick line")
      .attr("stroke", axisColor)
      .attr(s[4], d => s[3] * (isMajor(d) ? 5 : 2.5));
  });

  xTicks.filter(isMajor).forEach(v => powerLabel(g, v, x(v), p.bottom + 29, "middle"));
  yTicks.filter(isMajor).forEach(v => powerLabel(g, v, 66, y(v) + 8, "end"));

  g.append("text")
    .attr("x", (left + right) / 2).attr("y", p.top - 7)
    .attr("text-anchor", "middle")
    .style("font-size", "20px")
    .style("font-weight", "bold")
    .text(p.title);
  g.append("text")
    .attr("x", (left + right) / 2).attr("y", p.bottom + 53)
    .attr("text-anchor", "middle")
    .attr("fill", textColor)
    .style("font-size", "20px")
    .text("Time (days)");
  g.append("text")
    .attr("transform", `translate(31,${(p.top + p.bottom) / 2})rotate(-90)`)
    .attr("text-anchor", "middle")
    .attr("fill", textColor)
    .style("font-size", "20px")
    .text(p.yTitle);

  // legend
  const legend = g.append("g").attr("transform", `translate(${p.legendLeft},${p.legendTop})`);
  legend.append("rect")
    .attr("width", 180.5).attr("height", 106)
    .attr("fill", "white")
    .attr("stroke", "#8c8c8c");
  binLabels.forEach((name, i) => {
    const row = legend.append("g").attr("transform", `translate(0,${12.5 + i * 20.4})`);
    row.append("line")
      .attr("x1", 5).attr("x2", 38)
      .attr("stroke", binColors[i])
      .attr("stroke-width", 2);
    row.append("circle")
      .attr("cx", 21).attr("r", 3)
      .attr("fill", binColors[i]).attr("fill-opacity", 0.3)
      .attr("stroke", binColors[i])
      .attr("stroke-width", 1.3);
    row.append("text")
      .attr("x", 42).attr("dy", "0.36em")
      .style("font-size", "16.5px")
      .text(name);
  });
}

panels.forEach(drawPanel);
</script>
</body>
</html>
